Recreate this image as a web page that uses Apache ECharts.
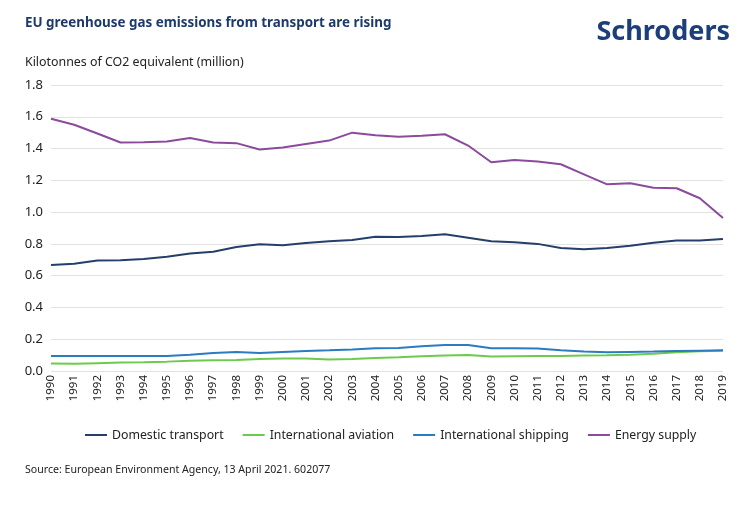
<!DOCTYPE html>
<html>
<head>
<meta charset="utf-8">
<script src="https://cdn.jsdelivr.net/npm/echarts@6/dist/echarts.min.js"></script>
<style>
html,body{margin:0;padding:0;background:#fff;}
#chart{width:744px;height:505px;}
</style>
</head>
<body>
<div id="chart"></div>
<script>
const years = ['1990','1991','1992','1993','1994','1995','1996','1997','1998','1999','2000','2001','2002','2003','2004','2005','2006','2007','2008','2009','2010','2011','2012','2013','2014','2015','2016','2017','2018','2019'];
const domesticTransport = [0.667,0.675,0.695,0.697,0.705,0.719,0.740,0.750,0.780,0.797,0.791,0.805,0.816,0.824,0.845,0.843,0.849,0.860,0.839,0.816,0.811,0.800,0.774,0.767,0.774,0.788,0.807,0.822,0.822,0.830];
const internationalAviation = [0.047,0.045,0.049,0.053,0.055,0.059,0.064,0.068,0.070,0.076,0.078,0.078,0.072,0.076,0.082,0.086,0.093,0.097,0.101,0.091,0.093,0.095,0.095,0.097,0.099,0.103,0.109,0.118,0.124,0.128];
const internationalShipping = [0.095,0.094,0.095,0.095,0.095,0.095,0.103,0.113,0.120,0.113,0.120,0.126,0.130,0.135,0.143,0.145,0.156,0.164,0.164,0.143,0.143,0.141,0.130,0.122,0.118,0.120,0.122,0.126,0.128,0.130];
const energySupply = [1.587,1.550,1.495,1.438,1.440,1.444,1.467,1.438,1.434,1.394,1.406,1.429,1.450,1.500,1.484,1.475,1.480,1.490,1.419,1.314,1.328,1.318,1.301,1.238,1.175,1.181,1.154,1.150,1.087,0.963];
const yTicks = {min:0, max:1.8, interval:0.2};

const FONT = 'Noto Sans';
const chart = echarts.init(document.getElementById('chart'), null, {renderer:'canvas'});
const mk = (name, data, color) => ({
  name, type:'line', data, symbol:'none', smooth:false,
  lineStyle:{width:2, color}, itemStyle:{color}
});
chart.setOption({
  backgroundColor:'#ffffff',
  animation:false,
  textStyle:{fontFamily:FONT},
  title:[
    {text:'EU greenhouse gas emissions from transport are rising', left:20, top:12,
     textStyle:{fontFamily:FONT, fontSize:13.4, fontWeight:'bold', color:'#1d3a6b'}},
    {text:'Schroders', right:9, top:14,
     textStyle:{fontFamily:FONT, fontSize:27, fontWeight:'bold', color:'#1c3f7a'}},
    {text:'Kilotonnes of CO2 equivalent (million)', left:20, top:51,
     textStyle:{fontFamily:FONT, fontSize:12.4, fontWeight:'normal', color:'#222'}},
    {text:'Source: European Environment Agency, 13 April 2021. 602077', left:20, top:459,
     textStyle:{fontFamily:FONT, fontSize:10.6, fontWeight:'normal', color:'#222'}}
  ],
  legend:{
    top:424, left:80, itemWidth:22, itemHeight:2, itemGap:19,
    icon:'rect',
    textStyle:{fontFamily:FONT, fontSize:12.3, color:'#222'},
    data:['Domestic transport','International aviation','International shipping','Energy supply']
  },
  grid:{left:51, right:21, top:85, bottom:134, containLabel:false},
  xAxis:{
    type:'category', data:years, boundaryGap:false,
    axisLine:{show:false}, axisTick:{show:false},
    axisLabel:{rotate:90, fontSize:11.5, color:'#222', margin:4, interval:0, fontFamily:FONT}
  },
  yAxis:{
    type:'value', min:yTicks.min, max:yTicks.max, interval:yTicks.interval,
    axisLine:{show:false}, axisTick:{show:false},
    axisLabel:{fontSize:13, color:'#222', margin:8, fontFamily:FONT, formatter:v=>v.toFixed(1)},
    splitLine:{lineStyle:{color:'#e2e2e2', width:1}}
  },
  series:[
    mk('Domestic transport', domesticTransport, '#243f6b'),
    mk('International aviation', internationalAviation, '#6ccb4c'),
    mk('International shipping', internationalShipping, '#2b7bbf'),
    mk('Energy supply', energySupply, '#8b4a9c')
  ]
});
</script>
</body>
</html>
